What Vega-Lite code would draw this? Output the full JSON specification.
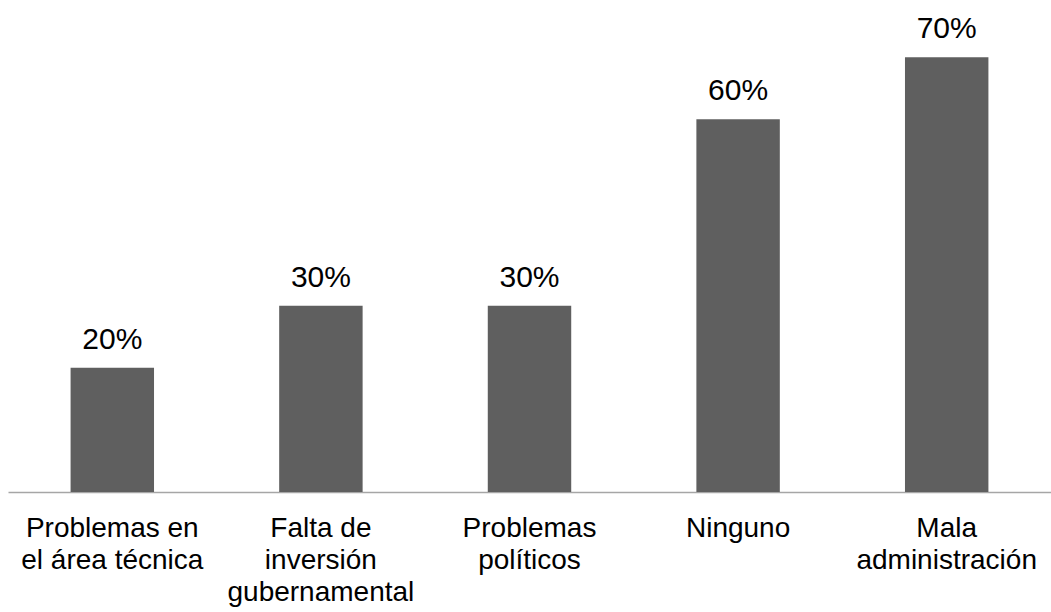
{
  "$schema": "https://vega.github.io/schema/vega-lite/v6.json",
  "width": 1043,
  "height": 492,
  "autosize": {"type": "none"},
  "padding": {"left": 8, "top": 0, "right": 0, "bottom": 120},
  "background": "white",
  "config": {"view": {"stroke": null}, "font": "Liberation Sans"},
  "data": {"values": [
    {"category": "Problemas en el área técnica", "value": 0.2},
    {"category": "Falta de inversión gubernamental", "value": 0.3},
    {"category": "Problemas políticos", "value": 0.3},
    {"category": "Ninguno", "value": 0.6},
    {"category": "Mala administración", "value": 0.7}
  ]},
  "encoding": {
    "x": {
      "field": "category", "type": "nominal", "sort": null,
      "scale": {"paddingInner": 0.6, "paddingOuter": 0.3},
      "axis": {
        "title": null, "labelAngle": 0, "ticks": false,
        "domainColor": "#a6a6a6", "domainWidth": 1.5,
        "labelFont": "Liberation Sans", "labelFontSize": 28, "labelColor": "#000000",
        "labelLineHeight": 32, "labelPadding": 22, "labelBaseline": "top",
        "labelLimit": 0,
        "labelExpr": "datum.value == 'Problemas en el área técnica' ? ['Problemas en', 'el área técnica'] : datum.value == 'Falta de inversión gubernamental' ? ['Falta de', 'inversión', 'gubernamental'] : datum.value == 'Problemas políticos' ? ['Problemas', 'políticos'] : datum.value == 'Mala administración' ? ['Mala', 'administración'] : datum.value"
      }
    },
    "y": {
      "field": "value", "type": "quantitative",
      "scale": {"domain": [0, 0.792], "nice": false, "zero": true},
      "axis": null
    }
  },
  "layer": [
    {"mark": {"type": "bar", "color": "#5f5f5f"}},
    {
      "mark": {"type": "text", "baseline": "alphabetic", "dy": -19, "fontSize": 30, "font": "Liberation Sans", "color": "#000000"},
      "encoding": {"text": {"field": "value", "type": "quantitative", "format": ".0%"}}
    }
  ]
}
